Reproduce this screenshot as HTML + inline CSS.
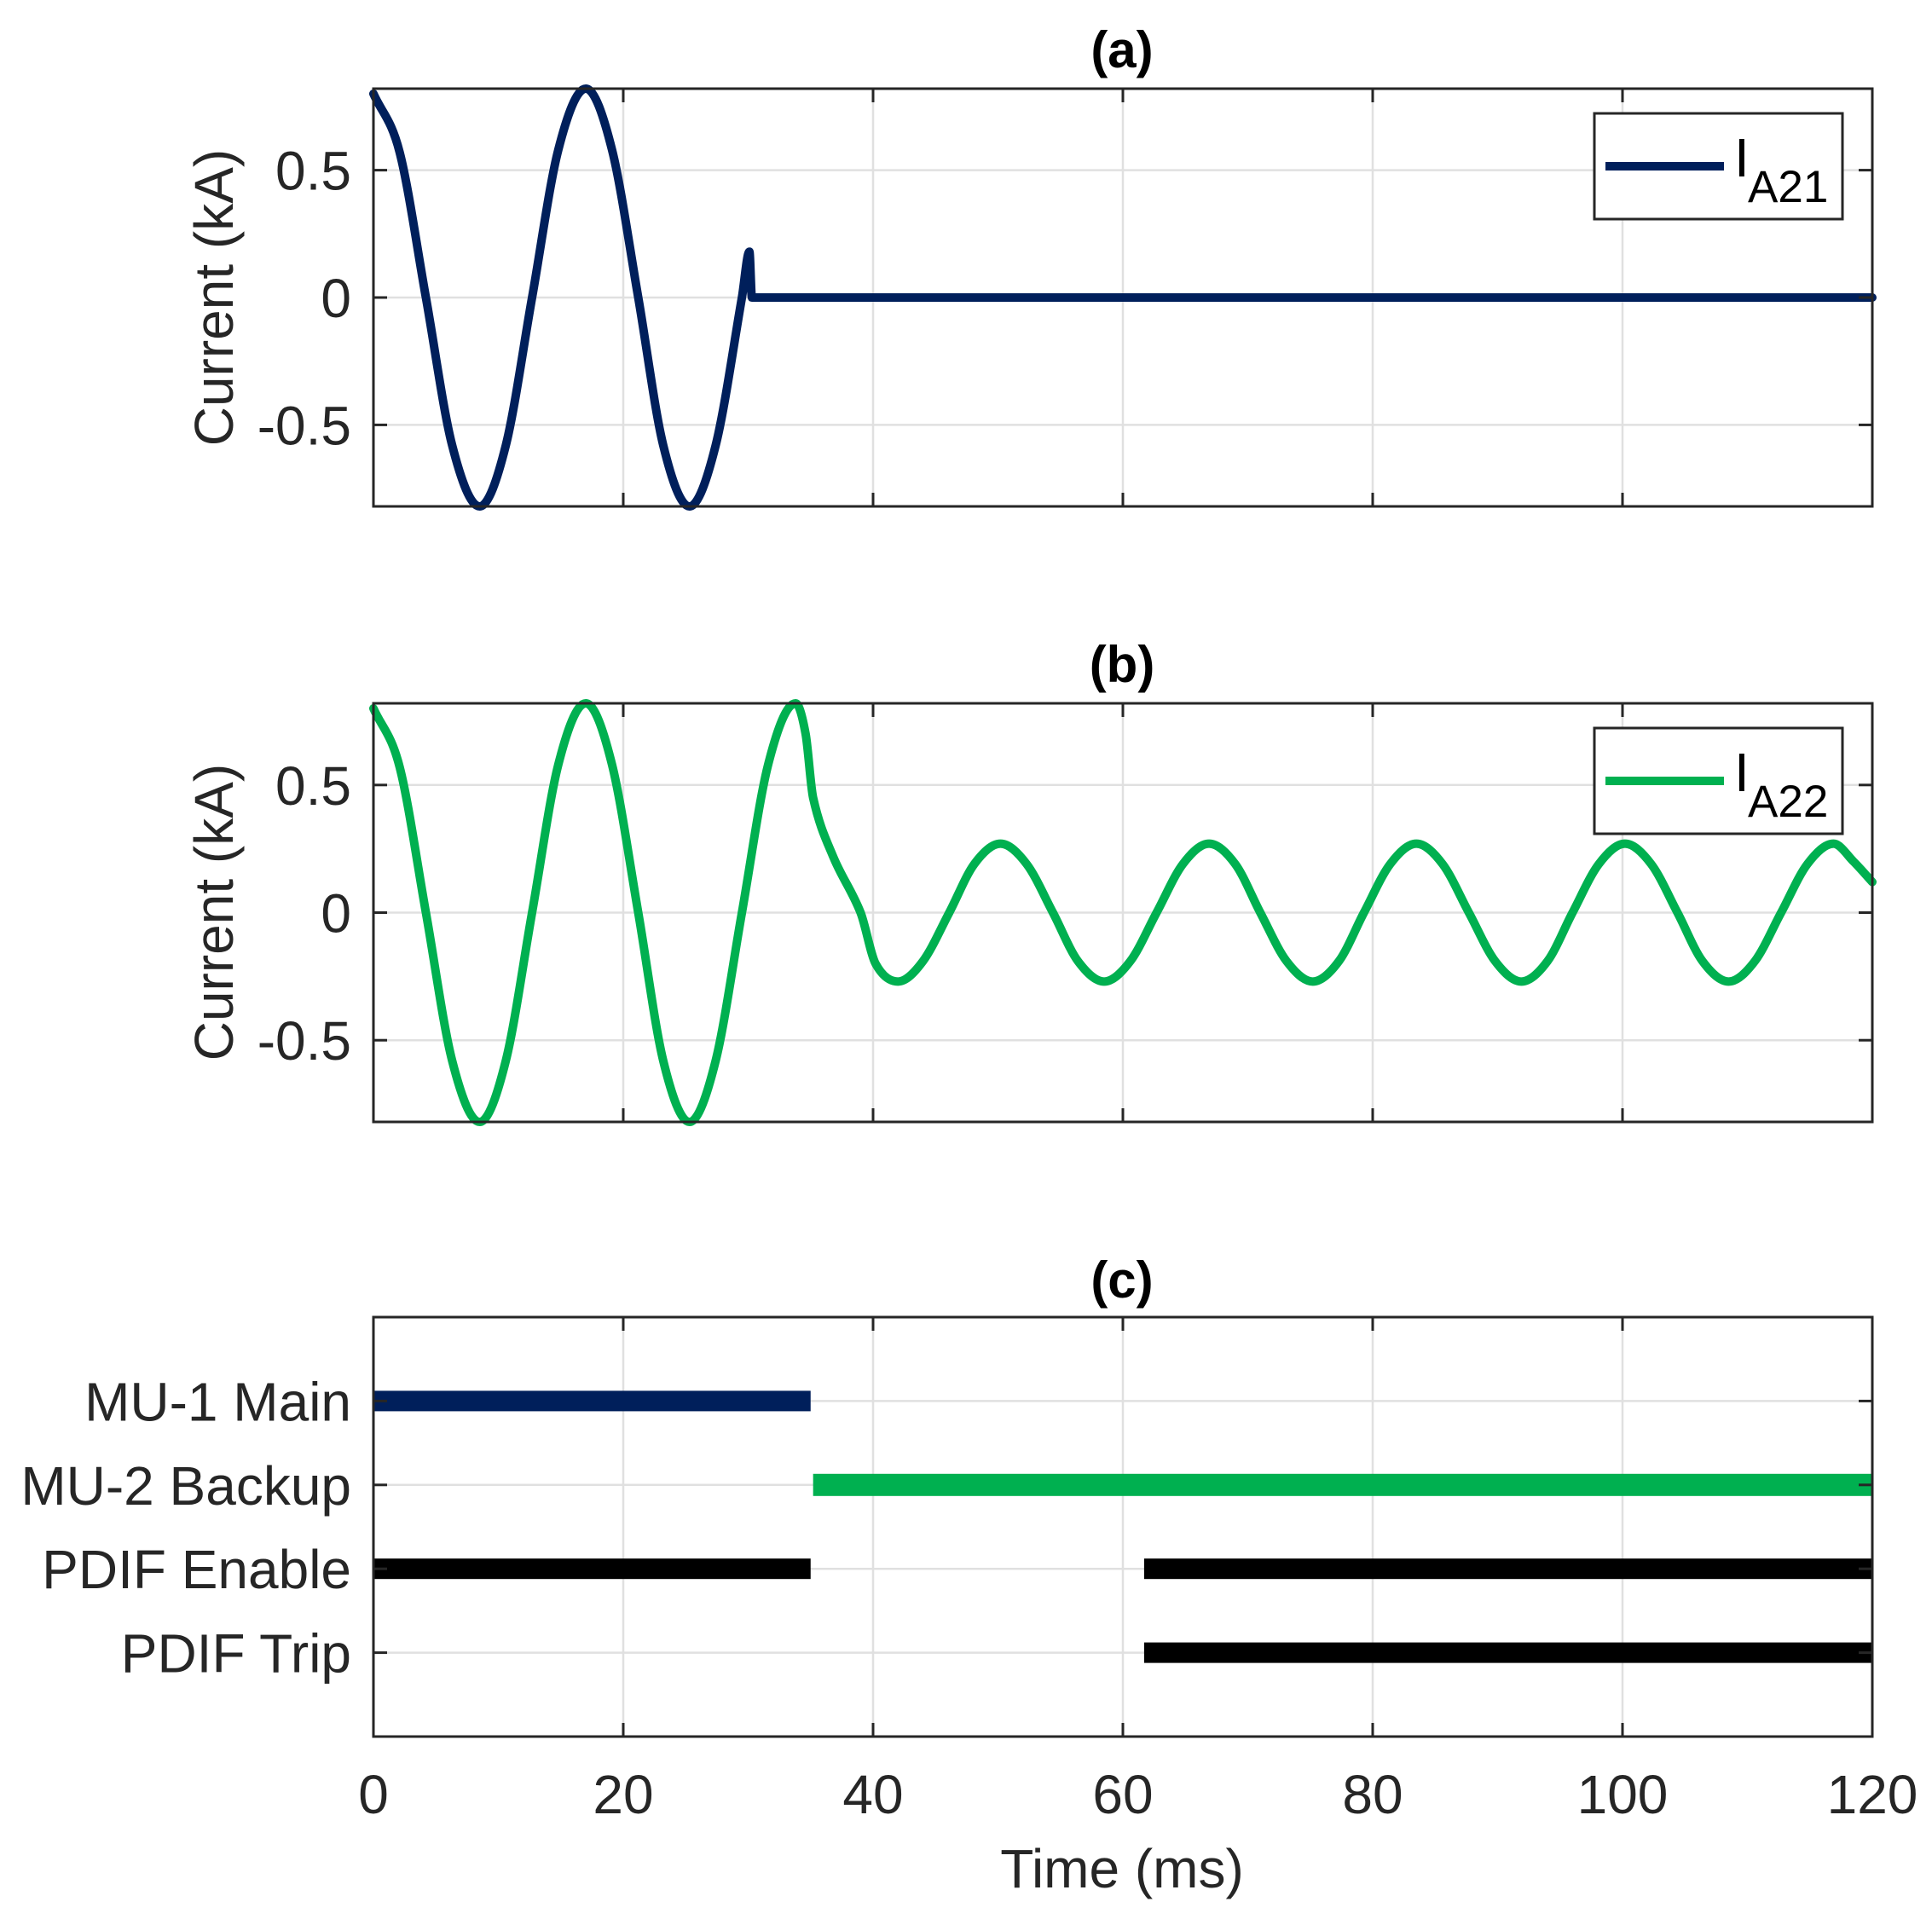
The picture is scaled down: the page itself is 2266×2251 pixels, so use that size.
<!DOCTYPE html>
<html><head><meta charset="utf-8">
<style>
html,body{margin:0;padding:0;background:#fff;}
svg{display:block;font-family:"Liberation Sans",Arial,sans-serif;}
</style></head>
<body>
<svg id="fig" width="2266" height="2251" viewBox="0 0 2266 2251" xmlns="http://www.w3.org/2000/svg"></svg>
<script>
// ---- data ----
const xTicks = [0, 20, 40, 60, 80, 100, 120];
const yTicksCurrent = [-0.5, 0, 0.5];
const yTickLabelsCurrent = ["-0.5", "0", "0.5"];
const tA21 = [0, 2.1, 4.2, 6.3, 8.5, 10.6, 12.7, 14.8, 17, 19.1, 21.2, 23.2, 25.3, 27.4, 29.5, 30.1, 30.3, 120];
const vA21 = [0.8, 0.57, 0, -0.58, -0.82, -0.58, 0, 0.58, 0.82, 0.58, 0, -0.58, -0.82, -0.58, 0, 0.18, 0, 0];
const tA22 = [0, 2.1, 4.2, 6.3, 8.5, 10.6, 12.7, 14.8, 17, 19.1, 21.2, 23.2, 25.3, 27.4, 29.5, 31.6, 33.8, 34.6, 35.2, 36.8, 39, 40.2, 42, 44, 46.1, 48.1, 50.2, 52.3, 54.4, 56.4, 58.5, 60.6, 62.7, 64.8, 66.9, 69, 71, 73.1, 75.2, 77.3, 79.3, 81.4, 83.5, 85.6, 87.7, 89.8, 91.9, 94, 96, 98.1, 100.2, 102.3, 104.4, 106.4, 108.5, 110.6, 112.7, 114.8, 116.9, 118.5, 120];
const vA22 = [0.8, 0.57, 0, -0.58, -0.82, -0.58, 0, 0.58, 0.82, 0.58, 0, -0.58, -0.82, -0.58, 0, 0.58, 0.82, 0.7, 0.45, 0.22, 0, -0.2, -0.27, -0.19, 0, 0.19, 0.27, 0.19, 0, -0.19, -0.27, -0.19, 0, 0.19, 0.27, 0.19, 0, -0.19, -0.27, -0.19, 0, 0.19, 0.27, 0.19, 0, -0.19, -0.27, -0.19, 0, 0.19, 0.27, 0.19, 0, -0.19, -0.27, -0.19, 0, 0.19, 0.27, 0.2, 0.12];
const signalNames = ["MU-1 Main", "MU-2 Backup", "PDIF Enable", "PDIF Trip"];
const signalLevels = [4, 3, 2, 1];
const segStart = [[0], [35.2], [0, 61.7], [61.7]];
const segEnd = [[35], [120], [35, 120], [120]];
const signalColors = ["#001f5b", "#00b050", "#000000", "#000000"];

const NS = "http://www.w3.org/2000/svg";
const svg = document.getElementById('fig');
function el(tag, attrs, parent) {
  const e = document.createElementNS(NS, tag);
  for (const k in attrs) e.setAttribute(k, attrs[k]);
  (parent || svg).appendChild(e);
  return e;
}
const L = 438, R = 2196;
const xs = t => L + (t - 0) / 120 * (R - L);
const FS = 64;

function axes(top, bot, yMin, yMax, yTicks, name) {
  const g = el('g', {});
  
  
  const ys = v => bot - (v - yMin) / (yMax - yMin) * (bot - top);
  xTicks.forEach(t => {
    if (t > 0 && t < 120) {
      const gl = el('line', {x1: xs(t), x2: xs(t), y1: top, y2: bot, stroke: '#e0e0e0', 'stroke-width': 2.5}, g);
      
      
    }
  });
  yTicks.forEach(v => {
    const gl = el('line', {x1: L, x2: R, y1: ys(v), y2: ys(v), stroke: '#e0e0e0', 'stroke-width': 2.5}, g);
    
    
  });
  return {g, ys};
}
function frame(g, top, bot, ys, yTicks, yLabels, showX) {
  const fr = el('rect', {x: L, y: top, width: R - L, height: bot - top, fill: 'none', stroke: '#262626', 'stroke-width': 3}, g);
  
  
  xTicks.forEach(t => {
    el('line', {x1: xs(t), x2: xs(t), y1: bot, y2: bot - 16, stroke: '#262626', 'stroke-width': 3}, g);
    el('line', {x1: xs(t), x2: xs(t), y1: top, y2: top + 16, stroke: '#262626', 'stroke-width': 3}, g);
    if (showX) {
      const tx = el('text', {x: xs(t), y: bot + 90, 'font-size': FS, 'text-anchor': 'middle', fill: '#262626'}, g);
      tx.textContent = t;
      
      
    }
  });
  yTicks.forEach((v, i) => {
    el('line', {x1: L, x2: L + 16, y1: ys(v), y2: ys(v), stroke: '#262626', 'stroke-width': 3}, g);
    el('line', {x1: R, x2: R - 16, y1: ys(v), y2: ys(v), stroke: '#262626', 'stroke-width': 3}, g);
    const ty = el('text', {x: 412, y: ys(v) + 23, 'font-size': FS, 'text-anchor': 'end', fill: '#262626'}, g);
    ty.textContent = yLabels[i];
    
    
  });
}
// cubic Hermite: central-difference tangents, zero tangent at extrema
function curvePath(ts, vs, ys) {
  const X = ts.map(xs), Y = vs.map(ys), n = X.length;
  const d = [], m = [];
  for (let i = 0; i < n - 1; i++) d.push((Y[i + 1] - Y[i]) / (X[i + 1] - X[i]));
  m[0] = d[0]; m[n - 1] = d[n - 2];
  for (let i = 1; i < n - 1; i++) {
    if (d[i - 1] * d[i] <= 0) m[i] = 0;
    else m[i] = (Y[i + 1] - Y[i - 1]) / (X[i + 1] - X[i - 1]);
  }
  let p = 'M' + X[0] + ',' + Y[0];
  for (let i = 0; i < n - 1; i++) {
    const h = (X[i + 1] - X[i]) / 3;
    p += ' C' + (X[i] + h) + ',' + (Y[i] + m[i] * h) + ' ' + (X[i + 1] - h) + ',' + (Y[i + 1] - m[i + 1] * h) + ' ' + X[i + 1] + ',' + Y[i + 1];
  }
  return p;
}
function title(txt, y, name) {
  const t = el('text', {x: 1316, y: y, 'font-size': 60, 'font-weight': 'bold', 'text-anchor': 'middle', fill: '#000'});
  t.textContent = txt;
  
  
}
function ylabel(y) {
  const t = el('text', {x: 0, y: 0, 'font-size': FS, 'text-anchor': 'middle', fill: '#262626', transform: 'translate(273,' + y + ') rotate(-90)'});
  t.textContent = 'Current (kA)';
  
  
}
function legend(top, color, sub, name) {
  const g = el('g', {});
  
  
  el('rect', {x: 1870, y: top, width: 291, height: 124, fill: '#fff', stroke: '#262626', 'stroke-width': 3}, g);
  el('line', {x1: 1883, x2: 2022, y1: top + 62, y2: top + 62, stroke: color, 'stroke-width': 10}, g);
  const t = el('text', {x: 2034, y: top + 74, 'font-size': 64, fill: '#000'}, g);
  t.textContent = 'I';
  const s = el('text', {x: 2050, y: top + 104, 'font-size': 53, fill: '#000'}, g);
  s.textContent = sub;
}

// panel a
{
  const top = 104, bot = 594;
  const {g, ys} = axes(top, bot, -0.82, 0.82, yTicksCurrent, 'panel-a');
  const p = el('path', {d: curvePath(tA21, vA21, ys), fill: 'none', stroke: '#001f5b', 'stroke-width': 10, 'stroke-linejoin': 'round', 'stroke-linecap': 'round'}, g);
  
  
  frame(g, top, bot, ys, yTicksCurrent, yTickLabelsCurrent, false);
  title('(a)', 79, 'title-a');
  ylabel(349);
  legend(133, '#001f5b', 'A21', 'legend-ia21');
}
// panel b
{
  const top = 825, bot = 1316;
  const {g, ys} = axes(top, bot, -0.82, 0.82, yTicksCurrent, 'panel-b');
  const p = el('path', {d: curvePath(tA22, vA22, ys), fill: 'none', stroke: '#00b050', 'stroke-width': 10, 'stroke-linejoin': 'round', 'stroke-linecap': 'round'}, g);
  
  
  frame(g, top, bot, ys, yTicksCurrent, yTickLabelsCurrent, false);
  title('(b)', 800, 'title-b');
  ylabel(1070);
  legend(854, '#00b050', 'A22', 'legend-ia22');
}
// panel c
{
  const top = 1545, bot = 2037;
  const {g, ys} = axes(top, bot, 0, 5, signalLevels, 'panel-c');
  signalNames.forEach((n, i) => {
    segStart[i].forEach((s, j) => {
      const b = el('rect', {x: xs(s), y: ys(signalLevels[i]) - (i === 1 ? 13 : 12), width: xs(segEnd[i][j]) - xs(s), height: i === 1 ? 26 : 24, fill: signalColors[i]}, g);
      
      
    });
  });
  frame(g, top, bot, ys, signalLevels, signalNames, true);
  title('(c)', 1522, 'title-c');
  const xt = el('text', {x: 1316, y: 2214, 'font-size': FS, 'text-anchor': 'middle', fill: '#262626'});
  xt.textContent = 'Time (ms)';
  
  
}
</script>
</body></html>
